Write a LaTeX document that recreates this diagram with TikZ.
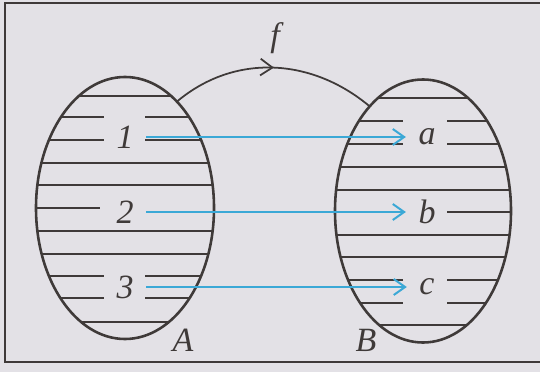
\documentclass[tikz,border=0pt]{standalone}
\usepackage{fontspec}
\newfontfamily\lblfont{Liberation Serif}[ItalicFont={Liberation Serif Italic}]
\usetikzlibrary{arrows.meta, shapes.geometric, decorations.markings}
\definecolor{cpaper}{HTML}{E3E1E6}
\definecolor{cink}{HTML}{3F3A39}
\definecolor{cblue}{HTML}{3BA8D6}
\tikzset{
  every picture/.style={line width=1.6pt},
  setshape/.style={draw=cink, ellipse, line width=2.2pt, inner sep=0pt, outer sep=0pt},
  hatch/.style={draw=cink, line width=1.8pt},
  elem/.style={text=cink, font=\fontsize{29}{31}\lblfont\itshape, inner xsep=10pt, inner ysep=0pt},
  setname/.style={text=cink, font=\fontsize{29}{31}\lblfont\itshape},
  maparrow/.style={draw=cblue, line width=1.7pt, -{Straight Barb[length=3.4mm, width=4.8mm]}},
  fmark/.style={draw=cink, line width=1.5pt, decoration={markings,
      mark=at position 0.5 with {\arrow{Straight Barb[length=3.6mm, width=5mm]}}}, postaction={decorate}},
}
\begin{document}
\begin{tikzpicture}[x=0.03cm, y=-0.03cm]
  \clip (0,0) rectangle (540,372);
  \fill[cpaper] (0,0) rectangle (540,372);
  \draw[cink, line width=2.4pt] (5,3) rectangle (560,362);
  % the two sets
  \node[setshape, minimum width=5.34cm, minimum height=7.86cm] (setA) at (125,208) {};
  \node[setshape, minimum width=5.28cm, minimum height=7.89cm] (setB) at (423,211) {};
  % hatching of A
  \begin{scope}
    \clip (125,208) ellipse [x radius=2.67cm, y radius=3.93cm];
    \foreach \y in {96,163,185,231,254,322} \draw[hatch] (30,\y) -- (220,\y);
    \foreach \y in {117,140,276,298} {
      \draw[hatch] (30,\y) -- (104,\y); \draw[hatch] (145,\y) -- (220,\y); }
    \draw[hatch] (30,208) -- (100,208);
  \end{scope}
  % hatching of B
  \begin{scope}
    \clip (423,211) ellipse [x radius=2.64cm, y radius=3.945cm];
    \foreach \y in {98,167,190,235,257,325} \draw[hatch] (330,\y) -- (520,\y);
    \foreach \y in {121,144,280,303} {
      \draw[hatch] (330,\y) -- (403,\y); \draw[hatch] (447,\y) -- (520,\y); }
    \draw[hatch] (447,212) -- (520,212);
  \end{scope}
  \node[elem] (e1) at (125,137) {1};
  \node[elem] (e2) at (125,212) {2};
  \node[elem] (e3) at (125,287) {3};
  \node[elem] (ea) at (427,137) {a};
  \node[elem] (eb) at (427,212) {b};
  \node[elem] (ec) at (427,287) {c};
  \draw[maparrow] (e1) -- (ea);
  \draw[maparrow] (e2) -- (eb);
  \draw[maparrow] (e3) -- (ec);
  \draw[fmark] (setA.64) to[out=40, in=140] (setB.117);
  \node[setname] (lblf) at (275,38) {f};
  \node[setname] (lblA) at (183,340) {A};
  \node[setname] (lblB) at (366,340) {B};
\end{tikzpicture}
\end{document}
